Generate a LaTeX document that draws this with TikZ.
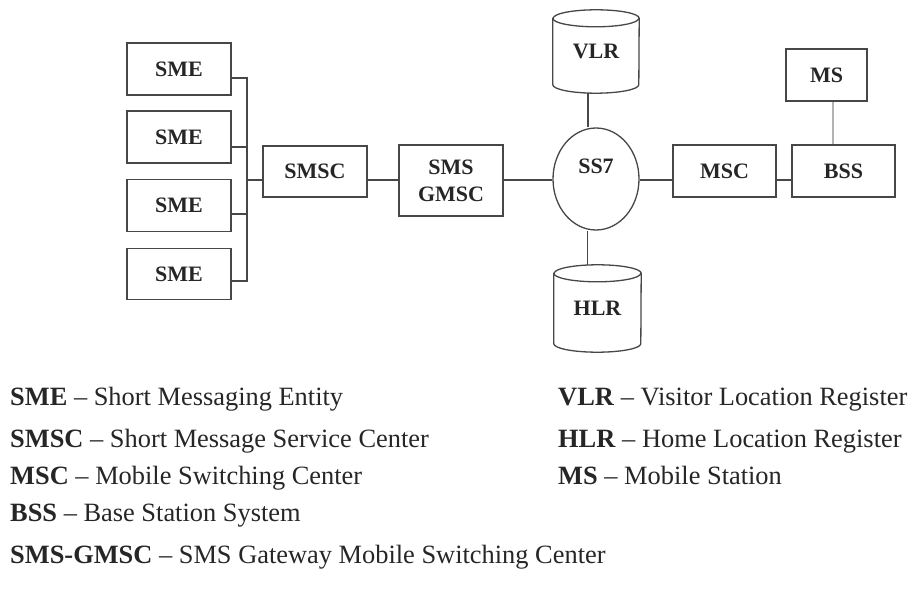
\documentclass[tikz,border=0pt]{standalone}
\usepackage{fontspec}
\setmainfont{Liberation Serif}
\usetikzlibrary{shapes.geometric,calc}
\tikzset{
  ln/.style={draw=black!72, line width=1.3pt},
  box/.style={ln, rectangle, fill=white, font=\fontsize{22}{25}\selectfont\bfseries, text=black!85, align=center, inner sep=0pt},
  cyl/.style={rectangle, inner sep=0pt, font=\fontsize{22}{25}\selectfont\bfseries, text=black!85},
  leg/.style={anchor=base west, inner sep=0pt, font=\fontsize{26.4}{29}\selectfont, text=black!85},
}
\begin{document}
\begin{tikzpicture}[x=1pt,y=-1pt]
\useasboundingbox (0,0) rectangle (912,601);
% SME boxes
\node[box, minimum width=104pt, minimum height=52pt] (SME1) at (179,69) {SME};
\node[box, minimum width=104pt, minimum height=52pt] (SME2) at (179,137) {SME};
\node[box, minimum width=104pt, minimum height=52pt] (SME3) at (179,205.5) {SME};
\node[box, minimum width=104pt, minimum height=51pt] (SME4) at (179,274) {SME};
% main chain
\node[box, minimum width=104pt, minimum height=51pt] (SMSC) at (315,171.5) {SMSC};
\node[box, minimum width=104pt, minimum height=71pt] (GMSC) at (451,180.5) {SMS\\[2pt]GMSC};
\node[ln, ellipse, minimum width=86pt, minimum height=102pt, inner sep=0pt] (SS7) at (596,179) {};
\node[font=\fontsize{22}{25}\selectfont\bfseries, text=black!85, inner sep=0pt] (SS7t) at (596,166) {SS7};
\node[box, minimum width=103pt, minimum height=52pt] (MSC) at (724.5,171) {MSC};
\node[box, minimum width=103pt, minimum height=52pt] (BSS) at (843.5,171) {BSS};
\node[box, minimum width=81pt, minimum height=52pt] (MS) at (826.5,75) {MS};
% cylinders
\node[cyl, minimum width=86pt, minimum height=83pt] (VLR) at (596,51.5) {VLR};
\node[cyl, minimum width=87pt, minimum height=87pt] (HLR) at (597.5,308.5) {HLR};
\draw[ln] ([yshift=-8.5pt]VLR.north west) -- ([yshift=8.5pt]VLR.south west)
  arc[start angle=180,end angle=360,x radius=43pt,y radius=8.5pt]
  -- ([yshift=-8.5pt]VLR.north east)
  arc[start angle=0,end angle=180,x radius=43pt,y radius=8.5pt] -- cycle;
\draw[ln] ([yshift=-8.5pt]VLR.north west) arc[start angle=180,end angle=360,x radius=43pt,y radius=8.5pt];
\draw[ln] ([yshift=-8.5pt]HLR.north west) -- ([yshift=8.5pt]HLR.south west)
  arc[start angle=180,end angle=360,x radius=43.5pt,y radius=8.5pt]
  -- ([yshift=-8.5pt]HLR.north east)
  arc[start angle=0,end angle=180,x radius=43.5pt,y radius=8.5pt] -- cycle;
\draw[ln] ([yshift=-8.5pt]HLR.north west) arc[start angle=180,end angle=360,x radius=43.5pt,y radius=8.5pt];
% SME bus
\coordinate (busT) at (247,78);
\coordinate (busB) at (247,281);
\coordinate (bus) at (247,180);
\draw[ln] ([yshift=-9pt]SME1.east) -- (busT) -- (busB) -- ([yshift=-7pt]SME4.east);
\draw[ln] ([yshift=-10pt]SME2.east) -- ([yshift=-10pt]SME2.east -| bus);
\draw[ln] ([yshift=-8.5pt]SME3.east) -- ([yshift=-8.5pt]SME3.east -| bus);
\draw[ln] (bus) -- (bus -| SMSC.west);
\draw[ln] (SMSC.east |- bus) -- (GMSC.west |- bus);
\draw[ln] (GMSC.east |- bus) -- (SS7.west |- bus);
\draw[ln] (SS7.east |- bus) -- (MSC.west |- bus);
\draw[ln] (MSC.east |- bus) -- (BSS.west |- bus);
\draw[ln] ([xshift=-8pt]VLR.south) -- ([xshift=-8pt]VLR.south |- SS7.north);
\draw[ln] ([xshift=-8.5pt]SS7.south) -- ([xshift=-8.5pt]SS7.south |- HLR.north);
\draw[draw=black!30, line width=1.3pt] ([xshift=6.5pt]MS.south) -- ([xshift=6.5pt]MS.south |- BSS.north);
% legend
\node[leg] (L1) at (10,405) {\textbf{SME} -- Short Messaging Entity};
\node[leg] (L2) at (10,447) {\textbf{SMSC} -- Short Message Service Center};
\node[leg] (L3) at (10,484) {\textbf{MSC} -- Mobile Switching Center};
\node[leg] (L4) at (10,521) {\textbf{BSS} -- Base Station System};
\node[leg] (L5) at (10,563) {\textbf{SMS-GMSC} -- SMS Gateway Mobile Switching Center};
\node[leg] (R1) at (558,405) {\textbf{VLR} -- Visitor Location Register};
\node[leg] (R2) at (558,447) {\textbf{HLR} -- Home Location Register};
\node[leg] (R3) at (558,484) {\textbf{MS} -- Mobile Station};
\end{tikzpicture}
\end{document}
